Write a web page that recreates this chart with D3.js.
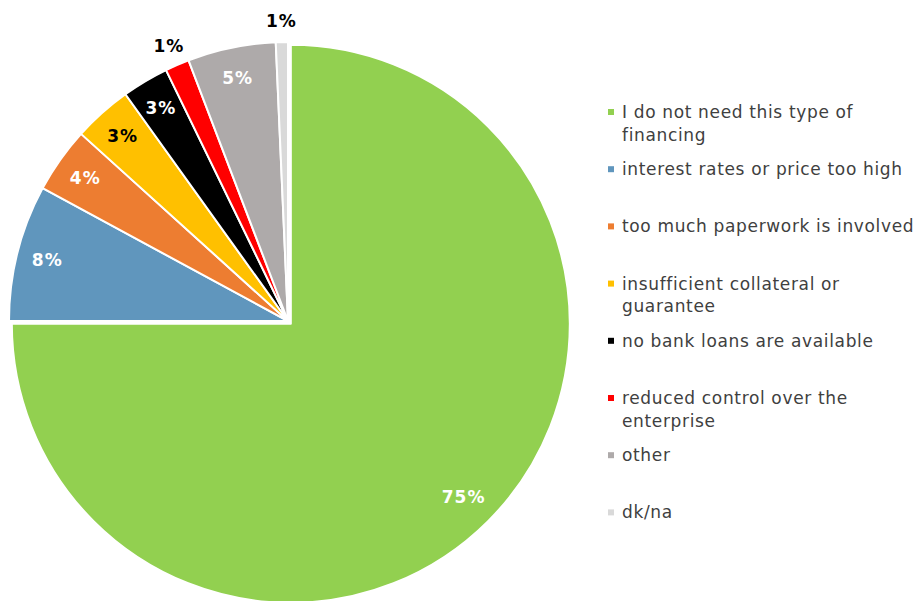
<!DOCTYPE html>
<html>
<head>
<meta charset="utf-8">
<script src="https://cdn.jsdelivr.net/npm/d3@7"></script>
<style>
  body { margin: 0; background: #fff; }
  svg { display: block; }
</style>
</head>
<body>
<script>
// reasons for not applying for a bank loan (%)
const categories = [
  "I do not need this type of\nfinancing",
  "interest rates or price too high",
  "too much paperwork is involved",
  "insufficient collateral or\nguarantee",
  "no bank loans are available",
  "reduced control over the\nenterprise",
  "other",
  "dk/na"
];
const values = [75.0, 7.9, 3.8, 3.4, 2.7, 1.4, 5.1, 0.7];
const labels = ["75%", "8%", "4%", "3%", "3%", "1%", "5%", "1%"];

const colors = ["#92d050", "#6096bd", "#ed7d31", "#ffc000", "#000000", "#ff0000", "#aeaaaa", "#d9d9d9"];
const labelInk = ["#fff", "#fff", "#fff", "#000", "#fff", "#000", "#fff", "#000"];

const width = 918, height = 601;
const cx = 288, cy = 321, R = 279;

const svg = d3.select("body").append("svg")
    .attr("width", width)
    .attr("height", height);

const pie = d3.pie().sort(null).value(d => d.v);
const arcs = pie(values.map((v, i) => ({ v, i })));

const arc = d3.arc().innerRadius(0).outerRadius(R);
const inLabel = d3.arc().innerRadius(R * 0.89).outerRadius(R * 0.89);
const outLabel = d3.arc().innerRadius(R + 21).outerRadius(R + 21);

const g = svg.append("g").attr("transform", `translate(${cx},${cy})`);

// first slice is pulled out a little
function offset(d) {
  if (d.index !== 0) return "translate(0,0)";
  const a = (d.startAngle + d.endAngle) / 2;
  return `translate(${Math.sin(a) * 4},${-Math.cos(a) * 4})`;
}

g.selectAll(".slice")
  .data(arcs)
  .enter().append("path")
  .attr("class", "slice")
  .attr("d", arc)
  .attr("transform", offset)
  .style("fill", d => colors[d.index])
  .style("stroke", "#fff")
  .style("stroke-width", 2)
  .style("stroke-linejoin", "round");

g.selectAll(".lbl")
  .data(arcs)
  .enter().append("text")
  .attr("class", "lbl")
  .attr("transform", d => {
    const p = (d.data.v < 2 ? outLabel : inLabel).centroid(d);
    return `translate(${p[0]},${p[1]})`;
  })
  .attr("text-anchor", "middle")
  .attr("dy", "0.36em")
  .style("font-family", "DejaVu Sans, Verdana, sans-serif")
  .style("font-weight", "bold")
  .style("font-size", "17px")
  .style("letter-spacing", "1px")
  .style("fill", d => labelInk[d.index])
  .text(d => labels[d.index]);

// legend
const legend = svg.append("g").attr("transform", "translate(608,118)");
const item = legend.selectAll(".item")
  .data(categories)
  .enter().append("g")
  .attr("class", "item")
  .attr("transform", (d, i) => `translate(0,${i * 57.2})`);

item.append("rect")
  .attr("x", 0).attr("y", -9)
  .attr("width", 6).attr("height", 6)
  .style("fill", (d, i) => colors[i]);

item.append("text")
  .attr("x", 14)
  .style("font-family", "DejaVu Sans, Verdana, sans-serif")
  .style("font-size", "17px")
  .style("letter-spacing", "0.65px")
  .style("fill", "#404040")
  .selectAll("tspan")
  .data(d => d.split("\n"))
  .enter().append("tspan")
  .attr("x", 14)
  .attr("y", (d, i) => i * 22.5)
  .text(d => d);
</script>
</body>
</html>
